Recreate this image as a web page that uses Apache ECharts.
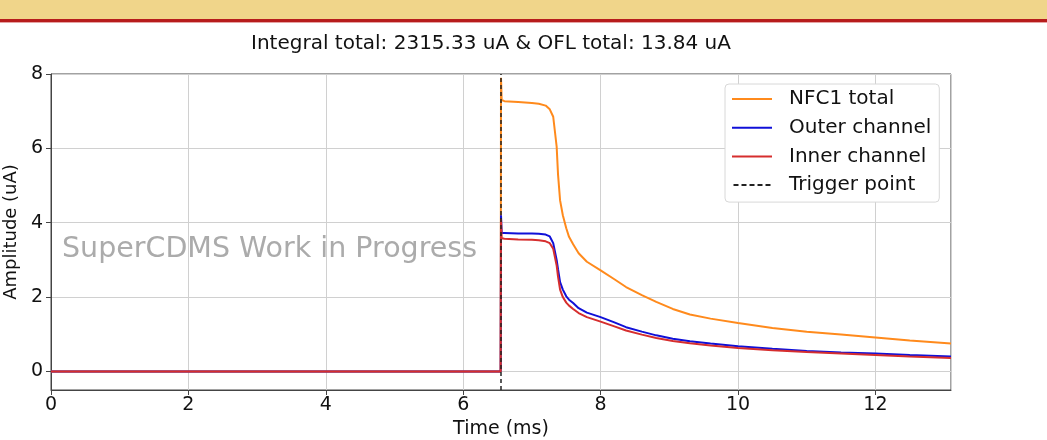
<!DOCTYPE html>
<html><head><meta charset="utf-8">
<script src="https://cdn.jsdelivr.net/npm/echarts@6/dist/echarts.min.js"></script>
<style>html,body{margin:0;padding:0;background:#fff}#c{width:1047px;height:440px}</style>
</head><body><div id="c"></div>
<script>
const timeMs = [0, 6.545, 6.55, 6.56, 6.6, 6.8, 7.0, 7.1, 7.2, 7.26, 7.31, 7.36, 7.38, 7.41, 7.45, 7.5, 7.54, 7.6, 7.68, 7.8, 8.0, 8.2, 8.37, 8.6, 8.81, 9.05, 9.3, 9.6, 10.0, 10.5, 11.0, 11.5, 12.0, 12.5, 13.1];
const nfc1Total = [0, 0, 7.9, 7.3, 7.27, 7.25, 7.22, 7.2, 7.15, 7.05, 6.85, 6.05, 5.3, 4.6, 4.2, 3.85, 3.62, 3.42, 3.18, 2.95, 2.72, 2.48, 2.27, 2.05, 1.87, 1.68, 1.53, 1.42, 1.30, 1.17, 1.07, 0.99, 0.91, 0.83, 0.75];
const outerChannel = [0, 0, 4.2, 3.72, 3.72, 3.71, 3.71, 3.70, 3.68, 3.63, 3.45, 3.0, 2.75, 2.4, 2.2, 2.02, 1.93, 1.84, 1.70, 1.58, 1.46, 1.32, 1.19, 1.07, 0.97, 0.88, 0.81, 0.75, 0.68, 0.61, 0.55, 0.51, 0.48, 0.44, 0.40];
const innerChannel = [0, 0, 4.1, 3.58, 3.57, 3.55, 3.54, 3.53, 3.5, 3.45, 3.3, 2.85, 2.55, 2.2, 2.0, 1.85, 1.77, 1.68, 1.57, 1.46, 1.34, 1.21, 1.10, 0.99, 0.90, 0.82, 0.76, 0.70, 0.63, 0.57, 0.52, 0.48, 0.44, 0.40, 0.36];
const triggerTime = 6.55;
const triggerSpan = [-0.5, 8];
const yTicks = [0, 2, 4, 6, 8];
const seriesNames = ['NFC1 total', 'Outer channel', 'Inner channel', 'Trigger point'];
const titleText = 'Integral total: 2315.33 uA & OFL total: 13.84 uA';
const watermark = 'SuperCDMS Work in Progress';

const pair = (ys) => timeMs.map((t, i) => [t, ys[i]]);
const F = 'DejaVu Sans';
const solidIcon = 'path://M0,0H40V2H0Z';
const dashIcon = 'path://M0,0H5V2H0Z M8,0H13V2H8Z M16,0H21V2H16Z M24,0H29V2H24Z M32,0H37V2H32Z';
const chart = echarts.init(document.getElementById('c'), null, {renderer: 'canvas'});
chart.setOption({
  animation: false,
  backgroundColor: '#fff',
  title: {text: titleText, left: 486, textAlign: 'center', top: 29,
    textStyle: {fontFamily: F, fontSize: 20, fontWeight: 'normal', color: '#111'}},
  graphic: [
    {type: 'rect', shape: {x: 0, y: 0, width: 1047, height: 19}, style: {fill: '#f0d58a'}, z: 0},
    {type: 'rect', shape: {x: 0, y: 19, width: 1047, height: 3}, style: {fill: '#b71c1c'}, z: 0},
    {type: 'rect', shape: {x: 0, y: 22, width: 1047, height: 1}, style: {fill: '#e6a3a3'}, z: 0},
    {type: 'text', left: 62, top: 235, z: 100,
      style: {text: watermark, font: '28.5px "DejaVu Sans"', fill: '#ababab'}}
  ],
  grid: {left: 51, right: 96, top: 74, bottom: 50, containLabel: false, outerBoundsMode: 'none',
    show: true, borderColor: '#444', borderWidth: 1},
  legend: {
    data: seriesNames.map((n, i) => ({name: n, icon: i === 3 ? dashIcon : solidIcon})),
    orient: 'vertical', left: 725, top: 84,
    padding: [4, 8, 6, 7], itemWidth: 40, itemHeight: 2, itemGap: 6.7,
    backgroundColor: '#fff', borderColor: '#d8d8d8', borderWidth: 1, borderRadius: 4,
    textStyle: {fontFamily: F, fontSize: 20, lineHeight: 22, color: '#111', padding: [0, 0, 0, 12]}
  },
  xAxis: {
    type: 'value', min: 0, max: 13.1, interval: 2,
    name: 'Time (ms)', nameLocation: 'middle', nameGap: 24,
    nameTextStyle: {fontFamily: F, fontSize: 19, color: '#111'},
    axisLine: {show: true, onZero: false, lineStyle: {color: '#444'}},
    axisTick: {show: true, length: 5, lineStyle: {color: '#444'}},
    axisLabel: {fontFamily: F, fontSize: 19, color: '#111', margin: 6, showMaxLabel: false},
    splitLine: {show: true, lineStyle: {color: '#d0d0d0'}}
  },
  yAxis: {
    type: 'value', min: -0.5, max: 8,
    name: 'Amplitude (uA)', nameLocation: 'middle', nameGap: 27, nameRotate: 90,
    nameTextStyle: {fontFamily: F, fontSize: 18, color: '#111'},
    axisLine: {show: true, onZero: false, lineStyle: {color: '#444'}},
    axisTick: {show: true, length: 5, lineStyle: {color: '#444'}, customValues: yTicks},
    axisLabel: {fontFamily: F, fontSize: 19, color: '#111', margin: 8, customValues: yTicks},
    splitLine: {show: true, lineStyle: {color: '#d0d0d0'}}
  },
  series: [
    {name: seriesNames[0], type: 'line', data: pair(nfc1Total), showSymbol: false, symbol: 'none',
      lineStyle: {color: '#ff8a1c', width: 2}, itemStyle: {color: '#ff8a1c'}, z: 2},
    {name: seriesNames[1], type: 'line', data: pair(outerChannel), showSymbol: false, symbol: 'none',
      lineStyle: {color: '#1010d8', width: 2}, itemStyle: {color: '#1010d8'}, z: 3},
    {name: seriesNames[2], type: 'line', data: pair(innerChannel), showSymbol: false, symbol: 'none',
      lineStyle: {color: '#d62e2e', width: 2}, itemStyle: {color: '#d62e2e'}, z: 4},
    {name: seriesNames[3], type: 'line', data: triggerSpan.map(v => [triggerTime, v]), showSymbol: false, symbol: 'none',
      lineStyle: {color: '#222', width: 1.5, type: [4, 3]}, itemStyle: {color: '#222'}, z: 5}
  ]
});
</script></body></html>
